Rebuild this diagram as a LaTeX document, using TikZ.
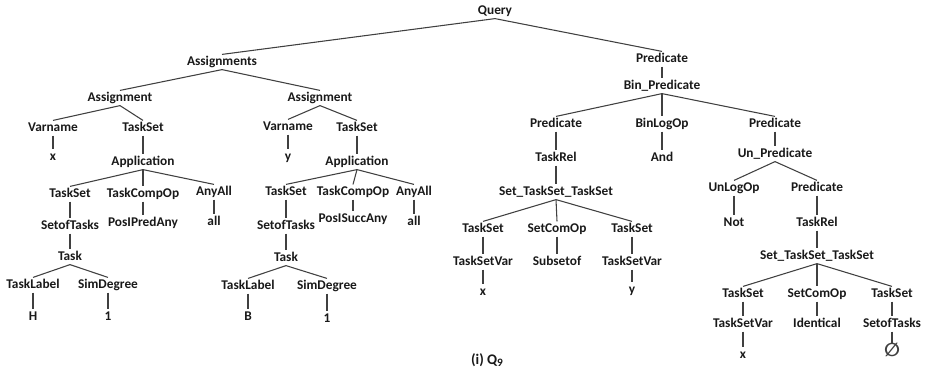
\documentclass[tikz,border=0pt]{standalone}
\usepackage{fontspec}
\setmainfont{Carlito}
\newfontfamily\symfnt{DejaVu Sans}
\begin{document}
\begin{tikzpicture}[x=0.75pt,y=-0.75pt,
  lbl/.style={font=\bfseries\fontsize{10}{12}\selectfont, inner sep=1pt, text height=7pt, text depth=2pt, text=black!90},
  edge/.style={draw=black!75, line width=0.8pt}]
\useasboundingbox (0,0) rectangle (930,380);
% left subtree
\node[lbl] (q) at (495,11) {Query};
\node[lbl] (as) at (222,62) {Assignments};
\node[lbl] (a1) at (120,98) {Assignment};
\node[lbl] (a2) at (320,98) {Assignment};
\node[lbl] (v1) at (53,128) {Varname};
\node[lbl] (ts1) at (143,128) {TaskSet};
\node[lbl] (v2) at (288,127) {Varname};
\node[lbl] (ts2) at (357,128) {TaskSet};
\node[lbl] (vx) at (53,157) {x};
\node[lbl] (vy) at (288,157) {y};
\node[lbl] (ap1) at (143,162) {Application};
\node[lbl] (ap2) at (357,162) {Application};
\node[lbl] (t1) at (70,194) {TaskSet};
\node[lbl] (co1) at (143,194) {TaskCompOp};
\node[lbl] (aa1) at (214,192) {AnyAll};
\node[lbl] (t2) at (286,192) {TaskSet};
\node[lbl] (co2) at (353,192) {TaskCompOp};
\node[lbl] (aa2) at (414,192) {AnyAll};
\node[lbl] (so1) at (70,226) {SetofTasks};
\node[lbl] (pp1) at (143,223) {PosIPredAny};
\node[lbl] (al1) at (214,222) {all};
\node[lbl] (so2) at (286,226) {SetofTasks};
\node[lbl] (ps2) at (353,219) {PosISuccAny};
\node[lbl] (al2) at (414,222) {all};
\node[lbl] (tk1) at (70,257) {Task};
\node[lbl] (tk2) at (286,258) {Task};
\node[lbl] (tl1) at (33,285) {TaskLabel};
\node[lbl] (sd1) at (108,285) {SimDegree};
\node[lbl] (tl2) at (248,286) {TaskLabel};
\node[lbl] (sd2) at (327,286) {SimDegree};
\node[lbl] (h) at (33,317) {H};
\node[lbl] (o1) at (108,317) {1};
\node[lbl] (b) at (248,317) {B};
\node[lbl] (o2) at (327,319) {1};
% right subtree
\node[lbl] (p0) at (662,59) {Predicate};
\node[lbl] (bp) at (662,86) {Bin\_Predicate};
\node[lbl] (pl) at (556,124) {Predicate};
\node[lbl] (bl) at (662,124) {BinLogOp};
\node[lbl] (pr) at (775,124) {Predicate};
\node[lbl] (tr1) at (556,158) {TaskRel};
\node[lbl] (and) at (662,158) {And};
\node[lbl] (up) at (775,154) {Un\_Predicate};
\node[lbl] (ul) at (734,188) {UnLogOp};
\node[lbl] (p2) at (817,188) {Predicate};
\node[lbl] (st1) at (556,192) {Set\_TaskSet\_TaskSet};
\node[lbl] (not) at (734,223) {Not};
\node[lbl] (tr2) at (817,223) {TaskRel};
\node[lbl] (s1a) at (483,229) {TaskSet};
\node[lbl] (s1b) at (557,229) {SetComOp};
\node[lbl] (s1c) at (632,229) {TaskSet};
\node[lbl] (v1a) at (483,262) {TaskSetVar};
\node[lbl] (sub) at (557,262) {Subsetof};
\node[lbl] (v1c) at (632,262) {TaskSetVar};
\node[lbl] (x2) at (483,292) {x};
\node[lbl] (y2) at (632,290) {y};
\node[lbl] (st2) at (817,256) {Set\_TaskSet\_TaskSet};
\node[lbl] (s2a) at (743,294) {TaskSet};
\node[lbl] (s2b) at (817,294) {SetComOp};
\node[lbl] (s2c) at (892,294) {TaskSet};
\node[lbl] (v2a) at (743,324) {TaskSetVar};
\node[lbl] (idn) at (817,324) {Identical};
\node[lbl] (so3) at (892,324) {SetofTasks};
\node[lbl] (x3) at (743,355) {x};
\node[lbl, font=\symfnt\bfseries\fontsize{14}{16}\selectfont, text=black!75, text height=9pt] (es) at (892,352) {∅};
\node[lbl, font=\bfseries\fontsize{11}{13}\selectfont] (cap) at (487,361) {(i) Q\raisebox{-0.25ex}{\fontsize{8.5}{10}\selectfont 9}};
% edges
\foreach \a/\b in {q/as,q/p0,as/a1,as/a2,a1/v1,a1/ts1,a2/v2,a2/ts2,v1/vx,v2/vy,ts1/ap1,ts2/ap2,
  ap1/t1,ap1/co1,ap1/aa1,ap2/t2,ap2/co2,ap2/aa2,t1/so1,co1/pp1,aa1/al1,t2/so2,co2/ps2,aa2/al2,
  so1/tk1,so2/tk2,tk1/tl1,tk1/sd1,tk2/tl2,tk2/sd2,tl1/h,sd1/o1,tl2/b,sd2/o2,
  p0/bp,bp/pl,bp/bl,bp/pr,pl/tr1,bl/and,pr/up,up/ul,up/p2,tr1/st1,ul/not,p2/tr2,
  st1/s1a,st1/s1b,st1/s1c,s1a/v1a,s1b/sub,s1c/v1c,v1a/x2,v1c/y2,tr2/st2,
  st2/s2a,st2/s2b,st2/s2c,s2a/v2a,s2b/idn,s2c/so3,v2a/x3,so3/es}
  \draw[edge] (\a.south) -- (\b.north);
\end{tikzpicture}
\end{document}
